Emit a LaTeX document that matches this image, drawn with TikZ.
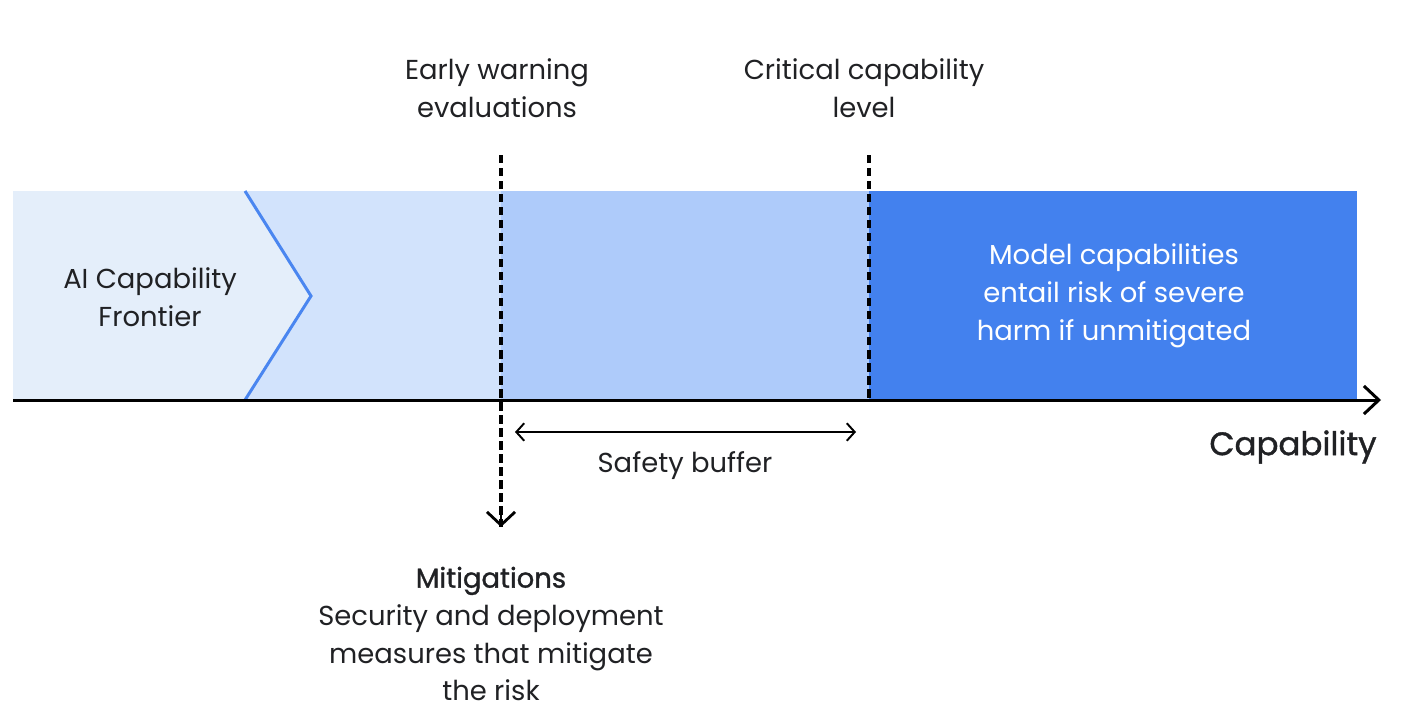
\documentclass[tikz,border=0pt]{standalone}
\usepackage{fontspec}
\setmainfont{Poppins}
\newfontfamily\medfont{Poppins}[FakeBold=1.2]
\usetikzlibrary{arrows.meta}

\definecolor{bandpale}{HTML}{E4EEFA}
\definecolor{bandlight}{HTML}{D2E3FC}
\definecolor{bandbuffer}{HTML}{AECBFA}
\definecolor{bandrisk}{HTML}{4381EE}
\definecolor{frontierblue}{HTML}{4A86F0}
\definecolor{inkgrey}{HTML}{202124}

\tikzset{
  lbl/.style={align=center, text=inkgrey, inner sep=0pt,
    font=\fontsize{15.6}{21.5}\selectfont},
  marker/.style={draw=black, line width=2pt, dash pattern=on 4.8pt off 2.6pt},
  axisline/.style={draw=black, line width=1.7pt,
    -{Straight Barb[length=8.5pt,width=16pt,line width=1.7pt]}},
  spanline/.style={draw=black, line width=1.1pt,
    {Straight Barb[length=4.5pt,width=10pt]}-{Straight Barb[length=4.5pt,width=10pt]}}
}

\begin{document}
\begin{tikzpicture}[x=0.2mm,y=-0.2mm]
  \useasboundingbox (0,0) rectangle (1416,718);

  % capability bands
  \fill[bandpale] (13,191) -- (245,191) -- (311,296) -- (245,400) -- (13,400) -- cycle;
  \fill[bandlight] (245,191) -- (501,191) -- (501,400) -- (245,400) -- (311,296) -- cycle;
  \fill[bandbuffer] (501,191) rectangle (869,400);
  \fill[bandrisk] (869,191) rectangle (1357,400);
  \draw[frontierblue, line width=1.7pt] (245,191) -- (311,296) -- (245,400);

  % labels
  \node[lbl] (frontier) at (150,297) {AI Capability\\Frontier};
  \node[lbl] (early) at (497,88) {Early warning\\evaluations};
  \node[lbl] (critical) at (864,88) {Critical capability\\level};
  \node[lbl, text=white] (risk) at (1114,296) {Model capabilities\\entail risk of severe\\harm if unmitigated};
  \node[lbl] (buffer) at (685,466) {Safety buffer};
  \node[lbl, font=\medfont\fontsize{18.5}{22}\selectfont] (capability) at (1293,447) {Capability};
  \node[lbl] (mitigations) at (491,634) {{\medfont Mitigations}\\Security and deployment\\measures that mitigate\\the risk};

  % axis and markers
  \coordinate (axstart) at (13,400);
  \coordinate (axend) at (1381,400);
  \draw[axisline] (axstart) -- (axend);

  \coordinate (earlytop) at (501,155);
  \coordinate (earlyend) at (501,527);
  \draw[marker] (earlytop) -- (earlyend);
  \draw[draw=black, line width=1.6pt, -{Straight Barb[length=7.5pt,width=16pt]}] (501,515) -- (earlyend);

  \coordinate (criticaltop) at (869,155);
  \coordinate (criticalend) at (869,400);
  \draw[marker] (criticaltop) -- (criticalend);

  \coordinate (bufferleft) at (515,432);
  \coordinate (bufferright) at (856,432);
  \draw[spanline] (bufferleft) -- (bufferright);
\end{tikzpicture}
\end{document}
